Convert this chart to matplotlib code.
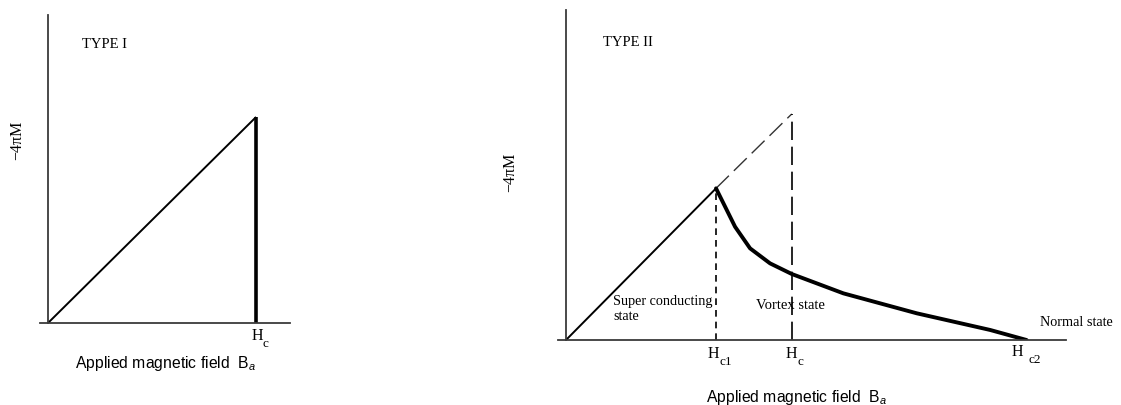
import matplotlib
matplotlib.use("Agg")
import matplotlib.pyplot as plt

plt.rcParams['mathtext.fontset'] = 'custom'
plt.rcParams['mathtext.rm'] = 'Liberation Serif'
plt.rcParams['mathtext.it'] = 'Liberation Sans:italic'
plt.rcParams['mathtext.sf'] = 'Liberation Sans'

# ---- data (arbitrary field units) ----
# Type I
type1_field = [0.0, 1.0]
type1_M = [0.0, 1.0]
type1_hc = 1.0

# Type II
type2_hc1 = 1.0
type2_hc = 1.505
type2_hc2 = 3.07
meissner_field = [0.0, 1.0]
meissner_M = [0.0, 1.011]
extrap_field = [1.0, 1.505]
extrap_M = [1.011, 1.507]
vortex_field = [1.0, 1.127, 1.227, 1.36, 1.505, 1.849, 2.338, 2.827, 3.07]
vortex_M = [1.011, 0.755, 0.611, 0.511, 0.44, 0.311, 0.178, 0.067, 0.0]

W, H = 1121, 405
fig = plt.figure(figsize=(W / 100, H / 100), dpi=100)

def px_axes(x0, y0, x1, y1):
    return fig.add_axes([x0 / W, 1 - y1 / H, (x1 - x0) / W, (y1 - y0) / H])

SERIF = 'Liberation Serif'
SANS = 'Liberation Sans'
AXC = '#3a3a3a'
PT = 0.72  # points per pixel at 100 dpi

def style(ax):
    for s in ['top', 'right']:
        ax.spines[s].set_visible(False)
    ax.spines['left'].set_position(('data', 0))
    ax.spines['bottom'].set_position(('data', 0))
    for s in ['left', 'bottom']:
        ax.spines[s].set_color(AXC)
        ax.spines[s].set_linewidth(1.3)
    ax.set_xticks([])
    ax.set_yticks([])
    ax.patch.set_alpha(0)

def field_label(ax, x, sub, h_off, s_off):
    ax.annotate('H', xy=(x, 0), xytext=(h_off[0] * PT, h_off[1] * PT),
                textcoords='offset points', ha='center', va='center',
                family=SERIF, fontsize=11.5, annotation_clip=False)
    ax.annotate(sub, xy=(x, 0), xytext=(s_off[0] * PT, s_off[1] * PT),
                textcoords='offset points', ha='left', va='center',
                family=SERIF, fontsize=9.5, annotation_clip=False)

# ---- left panel: Type I ----
ax1 = px_axes(40, 15, 290, 323)
ax1.set_xlim(-0.0385, 1.163)
ax1.set_ylim(0, 1.495)
style(ax1)
ax1.plot(type1_field, type1_M, color='black', lw=1.4, solid_capstyle='butt')
ax1.plot([type1_hc, type1_hc], [0, type1_M[-1]], color='black', lw=2.6, solid_capstyle='butt')
ax1.text(0.168, 0.903, 'TYPE I', transform=ax1.transAxes, family=SERIF, fontsize=10.5,
         ha='left', va='center')
ax1.text(-0.092, 0.594, '\u22124\u03c0M', transform=ax1.transAxes, family=SERIF,
         fontsize=11.5, rotation=90, ha='center', va='center')
field_label(ax1, type1_hc, 'c', (1, -13), (6, -21))
ax1.text(0.504, -0.13, r'Applied magnetic field  $\mathsf{B}_{\mathit{a}}$', transform=ax1.transAxes,
         family=SANS, fontsize=11.3, ha='center', va='center')

# ---- right panel: Type II ----
ax2 = px_axes(558, 10, 1066, 340)
ax2.set_xlim(-0.0533, 3.333)
ax2.set_ylim(0, 2.2)
style(ax2)
ax2.plot(meissner_field, meissner_M, color='black', lw=1.4, solid_capstyle='butt')
ax2.plot(extrap_field, extrap_M, color='#333333', lw=1.0, dashes=(13, 5))
ax2.plot(vortex_field, vortex_M, color='black', lw=2.8, solid_joinstyle='round',
         solid_capstyle='round')
ax2.plot([type2_hc1, type2_hc1], [0, meissner_M[-1]], color='black', lw=1.2, dashes=(4, 3))
ax2.plot([type2_hc, type2_hc], [0, extrap_M[-1]], color='black', lw=1.2, dashes=(11, 4))

ax2.text(0.0886, 0.903, 'TYPE II', transform=ax2.transAxes, family=SERIF, fontsize=10.5,
         ha='left', va='center')
ax2.text(-0.0945, 0.509, '\u22124\u03c0M', transform=ax2.transAxes, family=SERIF,
         fontsize=11.5, rotation=90, ha='center', va='center')
field_label(ax2, type2_hc1, 'c1', (-3, -14), (3, -22))
field_label(ax2, type2_hc, 'c', (0, -14), (6, -22))
field_label(ax2, type2_hc2, 'c2', (-9, -12), (2, -20))
ax2.text(0.109, 0.094, 'Super conducting\nstate', transform=ax2.transAxes, family=SERIF,
         fontsize=10.2, ha='left', va='center', linespacing=1.25)
ax2.text(0.390, 0.106, 'Vortex state', transform=ax2.transAxes, family=SERIF,
         fontsize=10.5, ha='left', va='center')
ax2.text(0.949, 0.052, 'Normal state', transform=ax2.transAxes, family=SERIF,
         fontsize=10.3, ha='left', va='center', clip_on=False)
ax2.text(0.469, -0.173, r'Applied magnetic field  $\mathsf{B}_{\mathit{a}}$', transform=ax2.transAxes,
         family=SANS, fontsize=11.3, ha='center', va='center')

fig.savefig('out.png', dpi=100)
